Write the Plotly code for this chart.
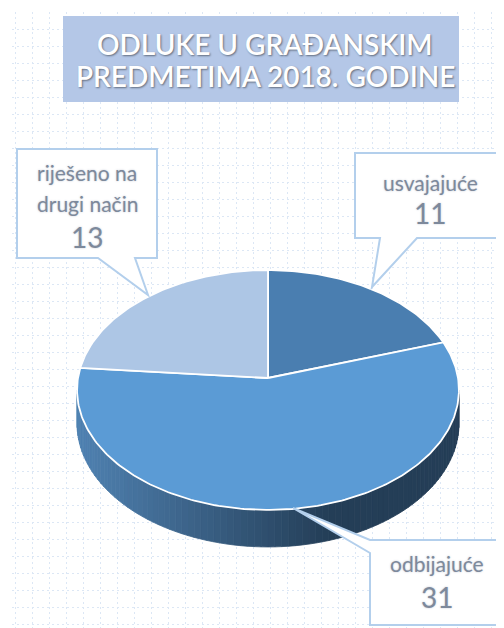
import math
import plotly.graph_objects as go

# ---------------- data ----------------
categories = ["usvajajuće", "odbijajuće", "riješeno na drugi način"]
values = [11, 31, 13]
label_lines = [["usvajajuće"], ["odbijajuće"], ["riješeno na", "drugi način"]]
title_lines = ["ODLUKE U GRAĐANSKIM", "PREDMETIMA 2018. GODINE"]

# ---------------- style / layout constants ----------------
W, H = 504, 628
BODY = 8                 # default page body margin of the html page
slice_colors = ["#4A7EB0", "#5B9BD5", "#ADC6E5"]
side_left = (0x50, 0x82, 0xB2)
side_right = (0x24, 0x3E, 0x57)
CX, CY = 268, 378        # pie centre (pixels)
S = 190                  # horizontal radius scale
SINA = 0.625             # tilt
P = 0.10                 # perspective strength
T = 33.3                 # thickness (screen)
FONT = "Lato"


def proj(theta_deg, r=1.0, depth=0.0):
    t = math.radians(theta_deg)
    u = r * math.sin(t)
    v = -r * math.cos(t)
    den = 1 - P * v
    return CX + S * u / den, CY + (S * SINA * v + depth) / den


def arc(a0, a1, depth=0.0, step=1.0):
    n = max(2, int(abs(a1 - a0) / step) + 1)
    return [proj(a0 + (a1 - a0) * i / (n - 1), 1.0, depth) for i in range(n)]


fig = go.Figure()

# ---------------- side wall (gradient strips) ----------------
tan_a = math.degrees(math.acos(-P))
front0, front1 = tan_a, 360 - tan_a
N = 90
for i in range(N):
    a0 = front0 + (front1 - front0) * i / N
    a1 = front0 + (front1 - front0) * (i + 1) / N
    t0 = proj(a0); t1 = proj(a1)
    b0 = proj(a0, depth=T); b1 = proj(a1, depth=T)
    xm = (t0[0] + t1[0]) / 2
    f = min(1.0, max(0.0, (xm - 77) / (330 - 77)))
    col = "rgb(%d,%d,%d)" % tuple(int(side_left[k] + (side_right[k] - side_left[k]) * f) for k in range(3))
    fig.add_trace(go.Scatter(
        x=[t0[0], t1[0], b1[0], b0[0], t0[0]],
        y=[t0[1], t1[1], b1[1], b0[1], t0[1]],
        mode="lines", fill="toself", fillcolor=col,
        line=dict(color=col, width=0.8), hoverinfo="skip", showlegend=False))

# ---------------- top face slices ----------------
total = sum(values)
start = 0.0
for cat, val, col in zip(categories, values, slice_colors):
    span = 360.0 * val / total
    pts = [proj(0, 0.0)] + arc(start, start + span) + [proj(0, 0.0)]
    fig.add_trace(go.Scatter(
        x=[p[0] for p in pts], y=[p[1] for p in pts],
        mode="lines", fill="toself", fillcolor=col,
        line=dict(color="white", width=1.8), name=cat,
        hoverinfo="skip", showlegend=False))
    start += span

# ---------------- title box ----------------
shapes = [dict(type="rect", xref="x", yref="y", x0=63, y0=16, x1=459, y1=102,
               fillcolor="#B4C7E7", line=dict(width=0), layer="above")]

# ---------------- callouts ----------------
callout_color = "#B3CFEC"
callout_paths = [
    "M 355,153 L 502,153 L 502,238 L 417,238 L 372,287 L 380,238 L 355,238 Z",
    "M 370,540 L 502,540 L 502,625 L 370,625 L 370,553 L 293,508 Z",
    "M 17,149 L 157,149 L 157,258 L 135,258 L 148,295 L 98,258 L 17,258 Z",
]
for pth in callout_paths:
    shapes.append(dict(type="path", xref="x", yref="y", path=pth,
                       fillcolor="white", line=dict(color=callout_color, width=2),
                       layer="above"))

annotations = []
title_y = [44, 76]
for txt, yy in zip(title_lines, title_y):
    annotations.append(dict(x=265, y=yy, xref="x", yref="y", text=txt, showarrow=False,
                            xanchor="center", yanchor="middle",
                            font=dict(family=FONT, size=28, weight=600, color="white",
                                      shadow="1px 1px 2px rgba(0,0,0,0.45)")))

label_pos = [  # (x, name line y's, value y)
    (430, [182], 213),
    (437, [563], 597),
    (87, [172, 203], 237),
]
lab_color = "#7D899B"
for lines, val, (lx, ly, vy) in zip(label_lines, values, label_pos):
    for ln, yy in zip(lines, ly):
        annotations.append(dict(x=lx, y=yy, xref="x", yref="y", text=ln, showarrow=False,
                                xanchor="center", yanchor="middle",
                                font=dict(family=FONT, size=21, color=lab_color,
                                          shadow="0px 0px 2px rgba(110,125,150,0.45)")))
    annotations.append(dict(x=lx, y=vy, xref="x", yref="y", text=str(val), showarrow=False,
                            xanchor="center", yanchor="middle",
                            font=dict(family=FONT, size=28, color=lab_color,
                                      shadow="0px 0px 2px rgba(110,125,150,0.45)")))

grid = dict(showgrid=True, gridcolor="#DCE7F5", gridwidth=1.3, griddash="2px,3px",
            zeroline=False, showticklabels=False, ticks="", showline=False, dtick=17)
fig.update_layout(
    width=W - BODY, height=H - BODY,
    margin=dict(l=12 - BODY, r=0, t=12 - BODY, b=0, autoexpand=False),
    paper_bgcolor="white", plot_bgcolor="white",
    xaxis=dict(range=[12, W], tick0=15, **grid),
    yaxis=dict(range=[H, 12], tick0=12, **grid),
    shapes=shapes, annotations=annotations, showlegend=False,
)
fig.write_html("out.html")
